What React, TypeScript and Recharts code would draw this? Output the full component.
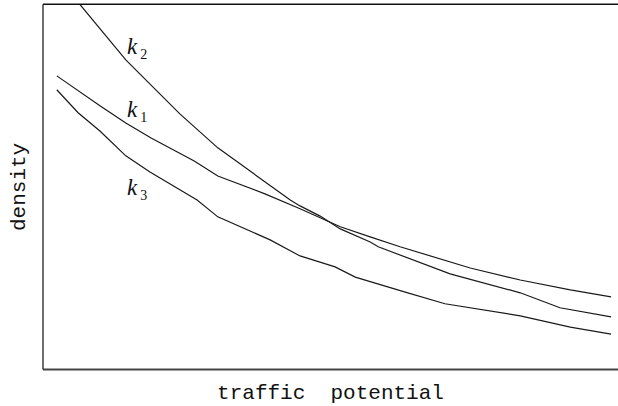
import React from 'react';
import { LineChart, Line, XAxis, YAxis, ReferenceDot, ReferenceLine } from 'recharts';

// traffic potential (x) and density (y), arbitrary units 0-100
const k1X = [2.4, 9.9, 14.4, 18.8, 26.3, 30.4, 38.6, 44.7, 51.7, 56.9, 62.1, 74.3, 83.0, 91.7, 98.8];
const k1Y = [80.4, 72.2, 67.5, 63.4, 57.1, 53.0, 48.1, 44.0, 39.1, 36.3, 33.6, 27.8, 24.5, 21.8, 19.9];

const k2X = [6.4, 14.4, 23.8, 30.4, 43.0, 44.7, 48.2, 51.7, 56.9, 58.3, 70.8, 83.0, 89.9, 98.8];
const k2Y = [100, 84.8, 70.0, 60.7, 46.4, 44.8, 42.0, 38.5, 34.9, 33.6, 26.2, 21.0, 16.9, 14.4];

const k3X = [2.4, 6.1, 9.9, 14.4, 18.6, 26.8, 30.4, 39.5, 44.7, 50.8, 54.3, 63.0, 69.9, 83.0, 91.7, 98.8];
const k3Y = [76.6, 70.3, 65.3, 58.5, 54.1, 46.4, 41.8, 35.5, 31.1, 28.1, 25.3, 21.2, 18.0, 14.7, 11.6, 9.7];

const seriesNames = ['1', '2', '3'];
// label anchors in data units
const labelX = [14.6, 14.6, 14.6];
const labelY = [69.2, 86.5, 47.8];

const toRows = (xs: number[], ys: number[]) => xs.map((x, i) => ({ x, y: ys[i] }));
const k1Data = toRows(k1X, k1Y);
const k2Data = toRows(k2X, k2Y);
const k3Data = toRows(k3X, k3Y);

const KLabel = (props: any) => {
  const vb = props.viewBox || {};
  const x = (vb.x ?? 0) + (vb.width ?? 0) / 2;
  const y = (vb.y ?? 0) + (vb.height ?? 0) / 2;
  return (
    <text x={x} y={y} fontFamily="'Liberation Serif', serif" fill="#111">
      <tspan fontStyle="italic" fontSize={23}>k</tspan>
      <tspan fontSize={14} dx={3} dy={5}>{props.sub}</tspan>
    </text>
  );
};

const XLabel = (props: any) => {
  const vb = props.viewBox || {};
  return (
    <text
      x={(vb.x ?? 0) + (vb.width ?? 0) / 2}
      y={(vb.y ?? 0) + 29}
      textAnchor="middle"
      fontFamily="'Liberation Mono', monospace"
      fontSize={21}
      fill="#111"
      style={{ whiteSpace: 'pre' }}
    >
      {'traffic  potential'}
    </text>
  );
};

const YLabel = (props: any) => {
  const vb = props.viewBox || {};
  const cx = 25.5;
  const cy = (vb.y ?? 0) + (vb.height ?? 0) / 2;
  return (
    <text
      x={cx}
      y={cy}
      textAnchor="middle"
      transform={`rotate(-90, ${cx}, ${cy})`}
      fontFamily="'Liberation Mono', monospace"
      fontSize={21}
      fill="#111"
    >
      density
    </text>
  );
};

export default function App() {
  return (
    <div style={{ position: 'absolute', left: 0, top: 0, background: '#fff' }}>
      <LineChart width={618} height={406} margin={{ top: 4.3, right: 0, bottom: 36.5, left: 43 }}>
        <XAxis dataKey="x" type="number" domain={[0, 100]} allowDataOverflow hide />
        <YAxis type="number" domain={[0, 100]} allowDataOverflow hide />
        <ReferenceLine y={100} stroke="#111" strokeWidth={1.5} />
        <ReferenceLine y={0} stroke="#444" strokeWidth={2} label={<XLabel />} />
        <ReferenceLine x={0} stroke="#222" strokeWidth={1.3} label={<YLabel />} />
        <Line data={k1Data} dataKey="y" type="linear" dot={false} stroke="#1a1a1a" strokeWidth={1.2} isAnimationActive={false} />
        <Line data={k2Data} dataKey="y" type="linear" dot={false} stroke="#1a1a1a" strokeWidth={1.2} isAnimationActive={false} />
        <Line data={k3Data} dataKey="y" type="linear" dot={false} stroke="#1a1a1a" strokeWidth={1.2} isAnimationActive={false} />
        {seriesNames.map((s, i) => (
          <ReferenceDot
            key={s}
            x={labelX[i]}
            y={labelY[i]}
            r={0}
            fill="none"
            stroke="none"
            label={<KLabel sub={s} />}
          />
        ))}
      </LineChart>
    </div>
  );
}
